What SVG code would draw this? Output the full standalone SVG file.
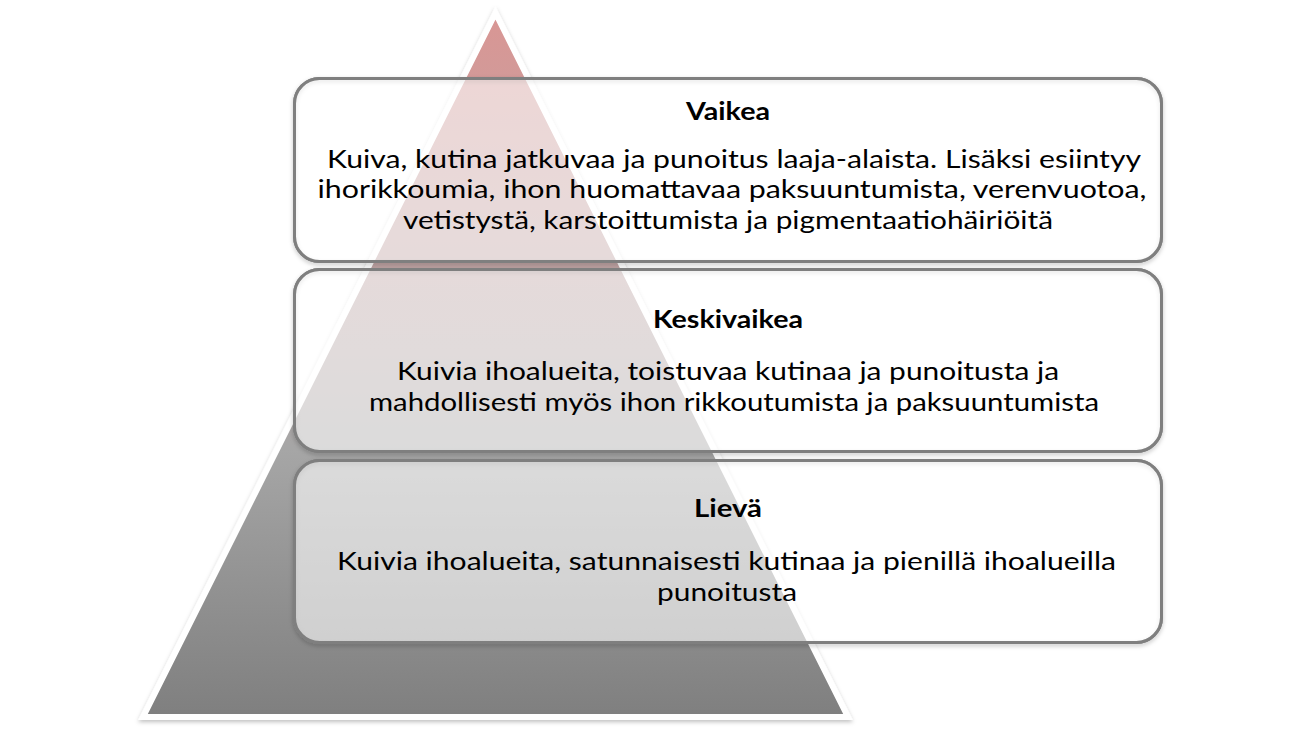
<svg xmlns="http://www.w3.org/2000/svg" width="1300" height="733" viewBox="0 0 1300 733">
<style>
.box{fill:#ffffff;fill-opacity:0.6;stroke:#7f7f7f;stroke-width:3}
.bsh{fill:none;stroke:#7f7f7f;stroke-width:3}
.t{font-family:Lato,"Open Sans","Liberation Sans",sans-serif;font-size:25px;fill:#000;text-anchor:middle}
.h{font-weight:bold}
</style>
<defs>
<linearGradient id="pg" x1="0" y1="13" x2="0" y2="717" gradientUnits="userSpaceOnUse">
<stop offset="0" stop-color="#d99694"/>
<stop offset="0.35" stop-color="#c0a4a4"/>
<stop offset="0.62" stop-color="#a6a6a6"/>
<stop offset="1" stop-color="#7f7f7f"/>
</linearGradient>
<filter id="sh" x="-10%" y="-10%" width="120%" height="120%">
<feDropShadow dx="0" dy="2" stdDeviation="2" flood-color="#000" flood-opacity="0.25"/>
</filter>
</defs>
<rect width="1300" height="733" fill="#ffffff"/>
<g id="pyramid">
<polygon points="495.5,13 848,717 143,717" fill="url(#pg)" stroke="#ffffff" stroke-width="6" stroke-linejoin="miter" filter="url(#sh)"/>
</g>
<g id="connectors"></g>
<g id="vaikea">
<rect class="bsh" x="294.5" y="78.5" width="867" height="183" rx="25" filter="url(#sh)"/>
<rect class="box" x="294.5" y="78.5" width="867" height="183" rx="25"/>
<text class="t h" x="728" y="120" textLength="84" lengthAdjust="spacingAndGlyphs">Vaikea</text>
<text class="t" x="734" y="168" textLength="814" lengthAdjust="spacingAndGlyphs">Kuiva, kutina jatkuvaa ja punoitus laaja-alaista. Lisäksi esiintyy</text>
<text class="t" x="732" y="198" textLength="829" lengthAdjust="spacingAndGlyphs">ihorikkoumia, ihon huomattavaa paksuuntumista, verenvuotoa,</text>
<text class="t" x="728" y="229" textLength="650" lengthAdjust="spacingAndGlyphs">vetistystä, karstoittumista ja pigmentaatiohäiriöitä</text>
</g>
<g id="keskivaikea">
<rect class="bsh" x="294.5" y="269.5" width="867" height="182" rx="25" filter="url(#sh)"/>
<rect class="box" x="294.5" y="269.5" width="867" height="182" rx="25"/>
<text class="t h" x="728" y="328" textLength="150" lengthAdjust="spacingAndGlyphs">Keskivaikea</text>
<text class="t" x="728" y="380" textLength="662" lengthAdjust="spacingAndGlyphs">Kuivia ihoalueita, toistuvaa kutinaa ja punoitusta ja</text>
<text class="t" x="734" y="411" textLength="730" lengthAdjust="spacingAndGlyphs">mahdollisesti myös ihon rikkoutumista ja paksuuntumista</text>
</g>
<g id="lieva">
<rect class="bsh" x="294.5" y="460.5" width="867" height="182" rx="25" filter="url(#sh)"/>
<rect class="box" x="294.5" y="460.5" width="867" height="182" rx="25"/>
<text class="t h" x="728" y="517" textLength="68" lengthAdjust="spacingAndGlyphs">Lievä</text>
<text class="t" x="726.5" y="570" textLength="779" lengthAdjust="spacingAndGlyphs">Kuivia ihoalueita, satunnaisesti kutinaa ja pienillä ihoalueilla</text>
<text class="t" x="727" y="601" textLength="140" lengthAdjust="spacingAndGlyphs">punoitusta</text>
</g>
</svg>
